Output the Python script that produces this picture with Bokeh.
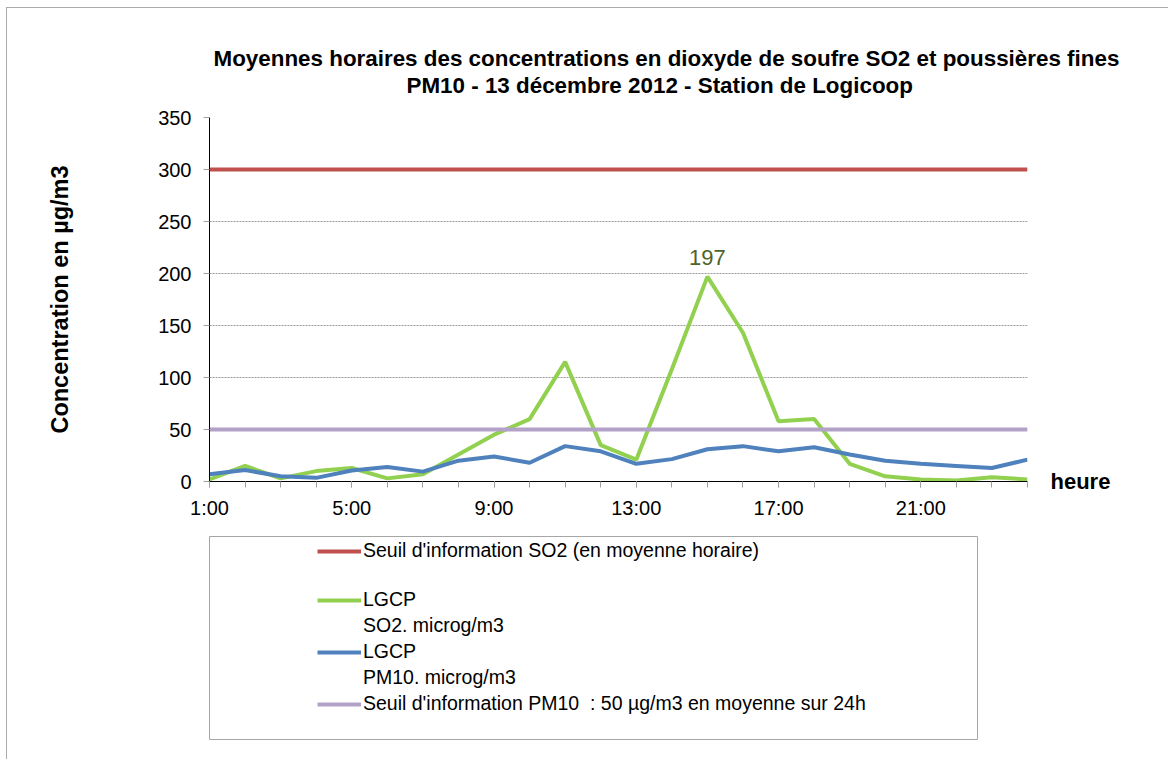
import math
from bokeh.plotting import figure
from bokeh.layouts import column
from bokeh.models import (Label, Legend, LegendItem, FixedTicker, Range1d, LinearAxis, Title)
from bokeh.embed import file_html
from bokeh.resources import INLINE

# ---------------- data ----------------
hours = list(range(1, 25))
label_hours = [1, 5, 9, 13, 17, 21]
hour_labels = {h: f"{h}:00" for h in label_hours}
so2 = [2, 15, 3, 10, 13, 3, 7, 26, 45, 60, 115, 35, 21, 108, 197, 143, 58, 60, 17, 5, 2, 1, 4, 2]
pm10 = [7, 11, 5, 3.5, 10.5, 14, 9.5, 20, 24, 18, 34, 29, 17, 21.5, 31, 34, 29, 33, 26, 20, 17, 15, 13, 21]
seuil_so2 = 300
seuil_pm10 = 50
y_ticks = [0, 50, 100, 150, 200, 250, 300, 350]

title_1 = "Moyennes horaires des concentrations en dioxyde de soufre SO2 et poussières fines"
title_2 = "PM10 -  13 décembre 2012 -  Station de Logicoop"
y_title = "Concentration en µg/m3"
x_title = "heure"
lab_red = "Seuil d'information SO2 (en moyenne horaire)"
lab_green = ["LGCP", "SO2. microg/m3"]
lab_blue = ["LGCP", "PM10. microg/m3"]
lab_purple = "Seuil d'information PM10  : 50 µg/m3 en moyenne sur 24h"

FONT = "Liberation Sans"
RED = "#C0504D"
GREEN = "#92D050"
BLUE = "#4F81BD"
PURPLE = "#B3A2C7"

series = [
    ("red", [seuil_so2] * len(hours), RED),
    ("green", so2, GREEN),
    ("blue", pm10, BLUE),
    ("purple", [seuil_pm10] * len(hours), PURPLE),
]

# ---------------- main chart ----------------
p = figure(frame_width=818, frame_height=364,
           min_border_left=202, min_border_right=141,
           min_border_top=109, min_border_bottom=39,
           x_range=Range1d(1, 24), y_range=Range1d(0, 350),
           output_backend="svg", toolbar_location=None,
           background_fill_color="white", border_fill_color="white",
           outline_line_color=None)

p.xaxis.ticker = FixedTicker(ticks=label_hours, minor_ticks=hours)
p.xaxis.major_label_overrides = hour_labels
p.yaxis.ticker = FixedTicker(ticks=y_ticks)
for ax in (p.xaxis, p.yaxis):
    ax.axis_line_color = "black"
    ax.axis_line_width = 1
    ax.major_tick_line_color = "#A0A0A0"
    ax.minor_tick_line_color = "#A0A0A0"
    ax.major_tick_out = 6
    ax.major_tick_in = 0
    ax.major_label_text_font = FONT
    ax.major_label_text_font_size = "20px"
    ax.major_label_text_color = "black"
p.xaxis.minor_tick_out = 6
p.xaxis.minor_tick_in = 0
p.yaxis.minor_tick_out = 0
p.yaxis.minor_tick_in = 0
p.xaxis.major_label_standoff = 9
p.yaxis.major_label_standoff = 12

p.yaxis.axis_label = y_title
p.yaxis.axis_label_text_font = FONT
p.yaxis.axis_label_text_font_size = "23.5px"
p.yaxis.axis_label_text_font_style = "bold"
p.yaxis.axis_label_text_color = "black"
p.yaxis.axis_label_standoff = 82

# "heure" placed at the end of the x axis (right side, at y = 0)
xr = LinearAxis(ticker=FixedTicker(ticks=[0]), major_label_overrides={0: x_title},
                axis_line_color=None, major_tick_line_color=None, minor_tick_line_color=None,
                major_tick_out=0, major_tick_in=0, minor_tick_out=0, minor_tick_in=0,
                major_label_standoff=23, major_label_text_font=FONT,
                major_label_text_font_size="22px", major_label_text_font_style="bold",
                major_label_text_color="black")
p.add_layout(xr, "right")

p.xgrid.grid_line_color = None
p.ygrid.grid_line_color = "#9A9A9A"
p.ygrid.grid_line_dash = "2 1"
p.ygrid.grid_line_width = 1

for name, ys, col in series:
    p.line(hours, ys, line_color=col, line_width=4)

imax = so2.index(max(so2))
p.add_layout(Label(x=hours[imax], y=so2[imax], text=str(so2[imax]), y_offset=12,
                   text_align="center", text_baseline="bottom",
                   text_font=FONT, text_font_size="22px", text_color="#4F6228"))

# titles: first added sits closest to the plot (a small blank spacer first)
p.add_layout(Title(text=" ", text_font_size="10px", standoff=7), "above")
p.add_layout(Title(text=title_2, align="left", offset=197, standoff=0,
                   text_font=FONT, text_font_size="22.4px", text_font_style="bold",
                   text_color="black"), "above")
p.add_layout(Title(text=title_1, align="left", offset=4, standoff=0,
                   text_font=FONT, text_font_size="22.4px", text_font_style="bold",
                   text_color="black"), "above")

# ---------------- legend panel ----------------
q = figure(frame_width=768, frame_height=203,
           min_border_left=202, min_border_right=191,
           min_border_top=15, min_border_bottom=20,
           x_range=Range1d(100, 101), y_range=Range1d(1000, 1001),
           x_axis_type=None, y_axis_type=None,
           output_backend="svg", toolbar_location=None,
           background_fill_color="white", border_fill_color="white",
           outline_line_color="#A6A6A6", outline_line_width=1)
q.xgrid.grid_line_color = None
q.ygrid.grid_line_color = None

# legend proxies (same series, outside the visible ranges of this panel)
proxy = {}
for name, ys, col in series:
    proxy[name] = q.line(hours, ys, line_color=col, line_width=4)


def make_legend(items, loc):
    return Legend(items=items, location=loc, padding=0, margin=0, spacing=3,
                  glyph_width=44, glyph_height=20, label_standoff=2,
                  label_text_font=FONT, label_text_font_size="19.5px",
                  label_text_color="black",
                  border_line_color=None, background_fill_alpha=0)


q.add_layout(make_legend([LegendItem(label=lab_red, renderers=[proxy["red"]])], (108, 177)))
q.add_layout(make_legend([LegendItem(label=lab_green[0], renderers=[proxy["green"]]),
                          LegendItem(label=lab_green[1], renderers=[]),
                          LegendItem(label=lab_blue[0], renderers=[proxy["blue"]]),
                          LegendItem(label=lab_blue[1], renderers=[]),
                          LegendItem(label=lab_purple, renderers=[proxy["purple"]])], (108, 24)))

layout = column(p, q, spacing=0, margin=(7, 0, 0, 6),
                styles={"border-left": "1px solid #ABABAB", "border-top": "1px solid #ABABAB"})
open("out.html", "w").write(file_html(layout, INLINE))
